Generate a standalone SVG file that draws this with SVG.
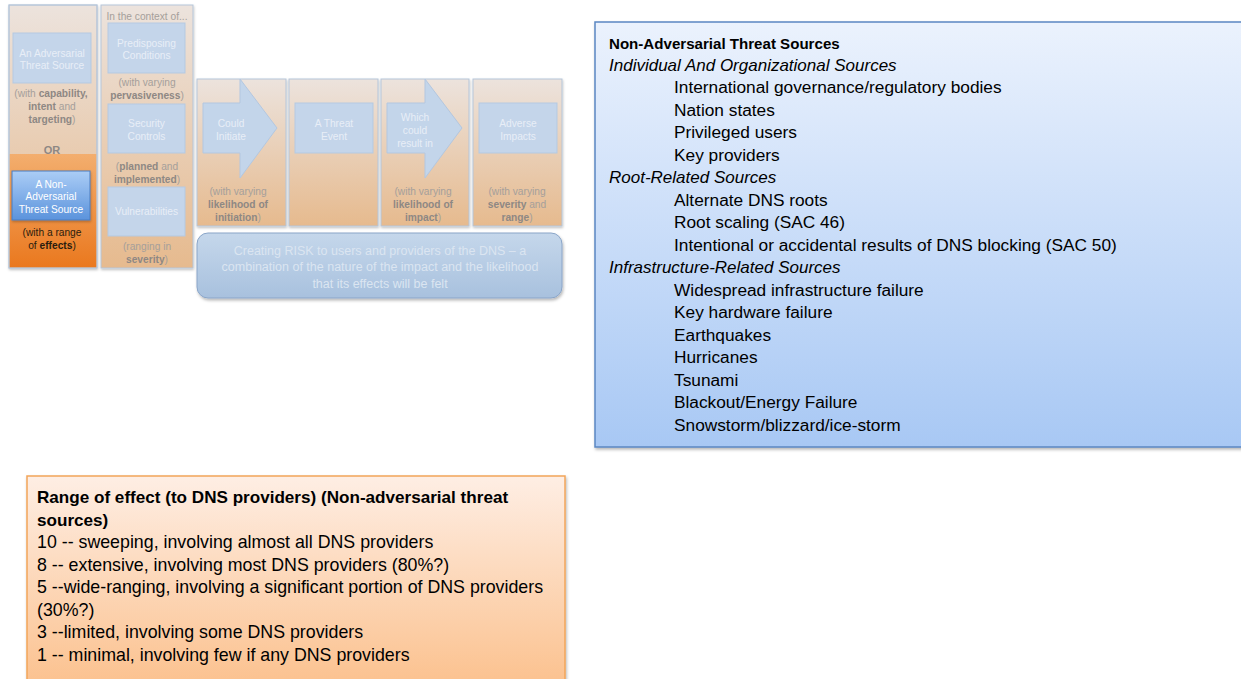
<svg xmlns="http://www.w3.org/2000/svg" width="1241" height="679" viewBox="0 0 1241 679">
<defs>
<linearGradient id="colG" x1="0" y1="0" x2="0" y2="1"><stop offset="0" stop-color="#ece3dd"/><stop offset="1" stop-color="#e6ba8e"/></linearGradient>
<linearGradient id="orG" x1="0" y1="0" x2="0" y2="1"><stop offset="0" stop-color="#f3ae6e"/><stop offset="1" stop-color="#ea781e"/></linearGradient>
<linearGradient id="naG" x1="0" y1="0" x2="0" y2="1"><stop offset="0" stop-color="#abcdf6"/><stop offset="1" stop-color="#5b93dc"/></linearGradient>
<linearGradient id="riskG" x1="0" y1="0" x2="0" y2="1"><stop offset="0" stop-color="#c5d7eb"/><stop offset="1" stop-color="#a8c1de"/></linearGradient>
<linearGradient id="rightG" x1="0" y1="0" x2="0" y2="1"><stop offset="0" stop-color="#ebf2fd"/><stop offset="1" stop-color="#a8c8f4"/></linearGradient>
<linearGradient id="botG" x1="0" y1="0" x2="0" y2="1"><stop offset="0" stop-color="#feeee4"/><stop offset="1" stop-color="#fbbd86"/></linearGradient>
<filter id="sh" x="-5%" y="-5%" width="112%" height="115%"><feDropShadow dx="1" dy="2" stdDeviation="1.5" flood-color="#000" flood-opacity="0.28"/></filter>
<filter id="sh2" x="-10%" y="-10%" width="125%" height="130%"><feDropShadow dx="0.5" dy="1.5" stdDeviation="1" flood-color="#000" flood-opacity="0.25"/></filter>
</defs>
<style>
text{font-family:"Liberation Sans",Arial,sans-serif}
.col{fill:url(#colG);stroke:#b6c5d9;stroke-width:1}
.ib{fill:#c4d5ea;stroke:#b5c9e1;stroke-width:1}
.ibt{fill:#e8eef7;font-size:10.2px;text-anchor:middle}
.wt{fill:#fff}
.ann{fill:#a59f9b;font-size:10.2px;text-anchor:middle}
.b{font-weight:bold;fill:#8e8884}
.arr{fill:#c3d5ea;stroke:#b3c7e0;stroke-width:1}
.rt{font-size:17.3px;fill:#000}
.rb{font-size:15.1px;font-weight:bold;fill:#000}
.ri{font-size:17px;font-style:italic;fill:#000}
.bt{font-size:17.8px;fill:#000}
.bb{font-size:17.1px;font-weight:bold;fill:#000}
.rk{font-size:12.5px;fill:#dbe5f1;text-anchor:middle}
</style>

<g id="col-threat-source">
<rect class="col" x="9" y="5" width="88" height="263" filter="url(#sh2)"/>
<rect x="9.5" y="154" width="87" height="113.5" fill="url(#orG)"/>
<rect x="9" y="5" width="88" height="263" fill="none" stroke="#b6c5d9"/>
</g>
<g id="node-adversarial">
<rect class="ib" x="13" y="33" width="78" height="50"/>
<text class="ibt" x="52" y="56.5">An Adversarial</text>
<text class="ibt" x="52" y="68.5">Threat Source</text>
<text class="ann" x="51" y="96.5">(with <tspan class="b">capability,</tspan></text>
<text class="ann" x="52" y="109.5"><tspan class="b">intent</tspan> and</text>
<text class="ann" x="52" y="122.5"><tspan class="b">targeting</tspan>)</text>
</g>
<g id="or-label">
<text x="52" y="153.5" font-size="11px" font-weight="bold" fill="#8e8884" text-anchor="middle">OR</text>
</g>
<g id="node-non-adversarial">
<rect x="12" y="171" width="78" height="49" fill="url(#naG)" stroke="#4a7cc0" filter="url(#sh2)"/>
<text class="ibt wt" x="51" y="187.5" style="fill:#fff">A Non-</text>
<text class="ibt wt" x="51" y="200" style="fill:#fff">Adversarial</text>
<text class="ibt wt" x="51" y="212.5" style="fill:#fff">Threat Source</text>
<text x="52" y="235.5" font-size="10.2px" fill="#2a1c0e" text-anchor="middle">(with a range</text>
<text x="52" y="248.5" font-size="10.2px" fill="#2a1c0e" text-anchor="middle">of <tspan font-weight="bold">effects</tspan>)</text>
</g>

<g id="col-context">
<rect class="col" x="101" y="5" width="92" height="263" filter="url(#sh2)"/>
<text class="ann" x="147" y="20">In the context of...</text>
</g>
<g id="node-predisposing">
<rect class="ib" x="108" y="23" width="77" height="50"/>
<text class="ibt" x="146.5" y="46.5">Predisposing</text>
<text class="ibt" x="146.5" y="59">Conditions</text>
<text class="ann" x="147" y="85.5">(with varying</text>
<text class="ann" x="147" y="98.5"><tspan class="b">pervasiveness</tspan>)</text>
</g>
<g id="node-security-controls">
<rect class="ib" x="108" y="104" width="77" height="49"/>
<text class="ibt" x="146.5" y="126.5">Security</text>
<text class="ibt" x="146.5" y="139.5">Controls</text>
<text class="ann" x="147" y="169.5">(<tspan class="b">planned</tspan> and</text>
<text class="ann" x="147" y="182.5"><tspan class="b">implemented</tspan>)</text>
</g>
<g id="node-vulnerabilities">
<rect class="ib" x="108" y="187" width="77" height="49"/>
<text class="ibt" x="146.5" y="214.5">Vulnerabilities</text>
<text class="ann" x="147" y="249.5">(ranging in</text>
<text class="ann" x="147" y="262.5"><tspan class="b">severity</tspan>)</text>
</g>

<g id="col-initiate">
<rect class="col" x="197" y="79" width="89" height="147" filter="url(#sh2)"/>
<text class="ann" x="238" y="194.5">(with varying</text>
<text class="ann" x="238" y="207.5"><tspan class="b">likelihood of</tspan></text>
<text class="ann" x="238" y="220.5"><tspan class="b">initiation</tspan>)</text>
</g>
<g id="node-threat-event">
<rect class="col" x="289" y="79" width="89" height="147" filter="url(#sh2)"/>
<rect class="ib" x="295" y="103" width="78" height="50"/>
<text class="ibt" x="334" y="126.5">A Threat</text>
<text class="ibt" x="334" y="139.5">Event</text>
</g>
<g id="col-result">
<rect class="col" x="381" y="79" width="88" height="147" filter="url(#sh2)"/>
<text class="ann" x="423" y="194.5">(with varying</text>
<text class="ann" x="423" y="207.5"><tspan class="b">likelihood of</tspan></text>
<text class="ann" x="423" y="220.5"><tspan class="b">impact</tspan>)</text>
</g>
<g id="node-adverse-impacts">
<rect class="col" x="473" y="79" width="89" height="147" filter="url(#sh2)"/>
<rect class="ib" x="479" y="103" width="78" height="50"/>
<text class="ibt" x="518" y="126.5">Adverse</text>
<text class="ibt" x="518" y="139.5">Impacts</text>
<text class="ann" x="517" y="194.5">(with varying</text>
<text class="ann" x="517" y="207.5"><tspan class="b">severity</tspan> and</text>
<text class="ann" x="517" y="220.5"><tspan class="b">range</tspan>)</text>
</g>

<g id="connectors">
<polygon class="arr" points="203,103 240,103 240,79 277,128 240,178 240,153 203,153"/>
<text class="ibt" x="231" y="126.5">Could</text>
<text class="ibt" x="231" y="139.5">Initiate</text>
<polygon class="arr" points="387,103 425,103 425,79 462,128 425,178 425,153 387,153"/>
<text class="ibt" x="415" y="120.5">Which</text>
<text class="ibt" x="415" y="133.5">could</text>
<text class="ibt" x="415" y="146.5">result in</text>
</g>

<g id="node-risk">
<rect x="197" y="233" width="365" height="65" rx="11" fill="url(#riskG)" stroke="#8aa5c8" filter="url(#sh)"/>
<text class="rk" x="380" y="254.5">Creating RISK to users and providers of the DNS – a</text>
<text class="rk" x="380" y="271">combination of the nature of the impact and the likelihood</text>
<text class="rk" x="380" y="287.5">that its effects will be felt</text>
</g>

<g id="node-non-adversarial-sources">
<rect x="595" y="22" width="680" height="425" fill="url(#rightG)" stroke="#5b87c2" stroke-width="1.5" filter="url(#sh)"/>
<text class="rb" x="609" y="48.5">Non-Adversarial Threat Sources</text>
<text class="ri" x="609" y="71">Individual And Organizational Sources</text>
<text class="rt" x="674" y="93">International governance/regulatory bodies</text>
<text class="rt" x="674" y="115.5">Nation states</text>
<text class="rt" x="674" y="138">Privileged users</text>
<text class="rt" x="674" y="160.5">Key providers</text>
<text class="ri" x="609" y="183">Root-Related Sources</text>
<text class="rt" x="674" y="205.5">Alternate DNS roots</text>
<text class="rt" x="674" y="228">Root scaling (SAC 46)</text>
<text class="rt" x="674" y="250.5">Intentional or accidental results of DNS blocking (SAC 50)</text>
<text class="ri" x="609" y="273">Infrastructure-Related Sources</text>
<text class="rt" x="674" y="295.5">Widespread infrastructure failure</text>
<text class="rt" x="674" y="318">Key hardware failure</text>
<text class="rt" x="674" y="340.5">Earthquakes</text>
<text class="rt" x="674" y="363">Hurricanes</text>
<text class="rt" x="674" y="385.5">Tsunami</text>
<text class="rt" x="674" y="408">Blackout/Energy Failure</text>
<text class="rt" x="674" y="430.5">Snowstorm/blizzard/ice-storm</text>
</g>

<g id="node-range-of-effect">
<rect x="27" y="476" width="538" height="230" fill="url(#botG)" stroke="#f2a55a" stroke-width="1.5" filter="url(#sh)"/>
<text class="bb" x="37" y="503">Range of effect (to DNS providers) (Non-adversarial threat</text>
<text class="bb" x="37" y="525.5">sources)</text>
<text class="bt" x="37" y="548">10 -- sweeping, involving almost all DNS providers</text>
<text class="bt" x="37" y="570.5">8 -- extensive, involving most DNS providers (80%?)</text>
<text class="bt" x="37" y="593">5 --wide-ranging, involving a significant portion of DNS providers</text>
<text class="bt" x="37" y="615.5">(30%?)</text>
<text class="bt" x="37" y="638">3 --limited, involving some DNS providers</text>
<text class="bt" x="37" y="660.5">1 -- minimal, involving few if any DNS providers</text>
</g>
</svg>
